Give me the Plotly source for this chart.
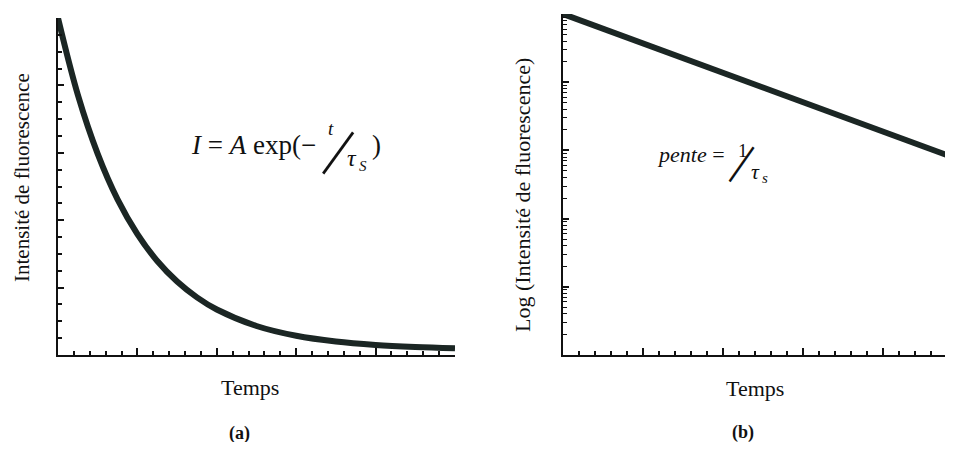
import plotly.graph_objects as go

# (a) intensity decay
temps_a = [0, 0.5, 1, 1.5, 2, 2.5, 3, 3.5, 4, 5, 6, 7, 8, 9, 10]
intensite = [10.0, 7.72, 5.97, 4.62, 3.59, 2.79, 2.18, 1.71, 1.35, 0.86, 0.57, 0.40, 0.30, 0.24, 0.20]

# (b) log intensity, straight line on log axis
temps_b = [0, 2, 4, 6, 8, 10]
log_intensite = [100000, 37000, 13750, 5100, 1890, 700]

# the page body has an 8px margin, so the figure is shrunk to fit the window
OFF = 8
W, H = 953 - 2 * OFF, 450 - 2 * OFF
SERIF = "Liberation Serif"
INK = "#111"
LINE = "#1b2624"


def px(x):
    return (x - OFF) / W


def py(y):
    return 1 - (y - OFF) / H


fig = go.Figure()

fig.add_trace(go.Scatter(x=temps_a, y=intensite, mode="lines", line_shape="spline",
                         line=dict(color=LINE, width=6), xaxis="x", yaxis="y",
                         showlegend=False, hoverinfo="skip"))
fig.add_trace(go.Scatter(x=temps_b, y=log_intensite, mode="lines",
                         line=dict(color=LINE, width=6), xaxis="x2", yaxis="y2",
                         showlegend=False, hoverinfo="skip"))

axis_common = dict(showline=True, linecolor=INK, linewidth=2, showgrid=False, zeroline=False,
                   showticklabels=False, ticks="inside", tickcolor=INK, tickwidth=1.5)

fig.update_layout(
    width=W, height=H,
    margin=dict(l=0, r=0, t=0, b=0),
    paper_bgcolor="white", plot_bgcolor="white",
    xaxis=dict(axis_common, domain=[px(58), px(455)], range=[0, 10], dtick=2, ticklen=7,
               anchor="y", minor=dict(ticks="inside", dtick=0.4, ticklen=4, tickcolor=INK, tickwidth=1.5)),
    yaxis=dict(axis_common, domain=[py(355), py(18)], range=[0, 10], dtick=2, ticklen=6,
               anchor="x", minor=dict(ticks="inside", dtick=0.5, ticklen=4, tickcolor=INK, tickwidth=1.5)),
    xaxis2=dict(axis_common, domain=[px(563), 1.0], range=[0, 9.55], dtick=2, ticklen=7,
                anchor="y2", minor=dict(ticks="inside", dtick=0.4, ticklen=4, tickcolor=INK, tickwidth=1.5)),
    yaxis2=dict(axis_common, domain=[py(355), py(14)], type="log", range=[0, 5], dtick=1, ticklen=6,
                anchor="x2", minor=dict(ticks="inside", dtick="D1", ticklen=4, tickcolor=INK, tickwidth=1.2)),
)


def note(text, x, y, size, xanchor="center", yanchor="middle", angle=0):
    fig.add_annotation(text=text, x=px(x), y=py(y), xref="paper", yref="paper",
                       xanchor=xanchor, yanchor=yanchor, textangle=angle, showarrow=False,
                       font=dict(family=SERIF, size=size, color=INK))


# axis titles and panel labels
note("Intensité de fluorescence", OFF, 178, 21, xanchor="left", angle=-90)
note("Temps", 250, 387, 22)
note("<b>(a)</b>", 239, 433, 18)
note("Log (Intensité de fluorescence)", 523, 195, 22, angle=-90)
note("Temps", 755, 388, 22)
note("<b>(b)</b>", 743, 432, 18)

# equation (a): I = A exp(- t / tau_S)
note("<i>I</i> = <i>A</i> exp(−", 189, 145, 27, xanchor="left")
note("<i>t</i>", 331, 128, 19)
note("|", 341, 148, 56, angle=36)
note("<i>τ</i>", 352, 158, 24)
note("<i>S</i>", 363, 166, 15)
note(")", 376, 145, 27)

# equation (b): pente = 1 / tau_s
note("<i>pente</i> =", 655, 155, 22, xanchor="left")
note("1", 743, 151, 19)
note("|", 744, 160, 46, angle=35)
note("<i>τ</i>", 755, 171, 22)
note("<i>s</i>", 765, 178, 15)

fig.write_html("out.html")
